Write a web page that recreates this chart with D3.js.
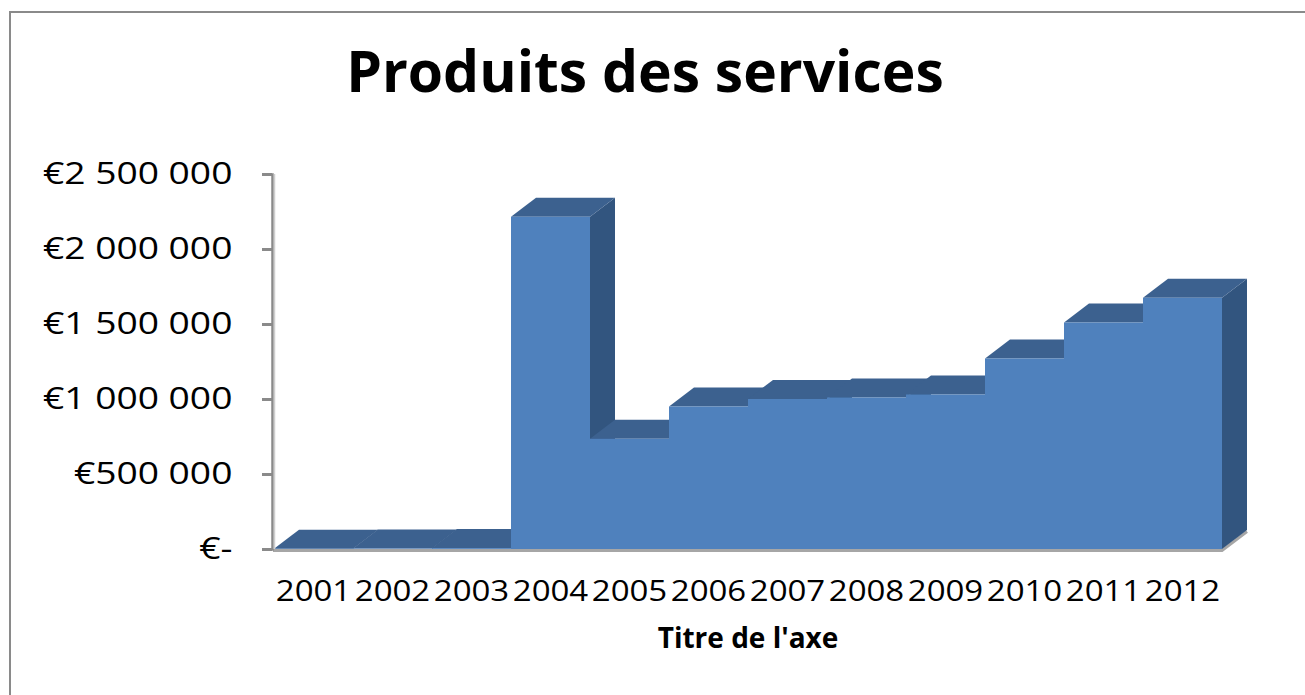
<!DOCTYPE html>
<html>
<head>
<meta charset="utf-8">
<script src="https://cdn.jsdelivr.net/npm/d3@7"></script>
<style>
  body { margin: 0; background: #fff; }
  svg { display: block; }
</style>
</head>
<body>
<div id="chart"></div>
<script>
var years = ['2001', '2002', '2003', '2004', '2005', '2006', '2007', '2008', '2009', '2010', '2011', '2012'];
var produits = [2000, 3000, 6000, 2215000, 735000, 950000, 1000000, 1010000, 1030000, 1270000, 1510000, 1675000];
var yTicks = [0, 500000, 1000000, 1500000, 2000000, 2500000];
var yTickLabels = ['€-', '€500 000', '€1 000 000', '€1 500 000', '€2 000 000', '€2 500 000'];

var width = 1305, height = 695;
var depthX = 25, depthY = -19;

var svg = d3.select('#chart').append('svg')
  .attr('width', width)
  .attr('height', height);

// cadre du graphique
svg.append('rect')
  .attr('x', 10).attr('y', 12)
  .attr('width', 1310).attr('height', 720)
  .attr('fill', 'none')
  .attr('stroke', '#8a8a8a')
  .attr('stroke-width', 2);

var x = d3.scaleBand().domain(years).range([274, 1222]).padding(0);
var y = d3.scaleLinear().domain([0, 2500000]).range([549, 174]);

// titre
svg.append('text')
  .attr('x', 645).attr('y', 92)
  .attr('text-anchor', 'middle')
  .style('font-family', '"Open Sans", sans-serif')
  .style('font-weight', 'bold')
  .style('font-size', '57px')
  .text('Produits des services');

// sol (bord avant + bord droit)
var floor = svg.append('g');
floor.append('path')
  .attr('d', 'M' + (x.range()[0] - 1) + ',' + (y(0) + 1.5) + 'H' + x.range()[1] +
    'l' + depthX + ',' + depthY)
  .attr('fill', 'none')
  .attr('stroke', '#a6a6a6')
  .attr('stroke-width', 3);

// colonnes 3D, dessinées de gauche à droite
var bars = svg.append('g');
years.forEach(function(yr, i) {
  var x0 = x(yr), x1 = x0 + x.bandwidth();
  var yt = y(produits[i]), yb = y(0);
  var g = bars.append('g');
  // face latérale
  g.append('path')
    .attr('d', 'M' + x1 + ',' + yb + 'L' + x1 + ',' + yt + 'l' + depthX + ',' + depthY +
      'L' + (x1 + depthX) + ',' + (yb + depthY) + 'Z')
    .attr('fill', '#32557f');
  // face supérieure
  g.append('path')
    .attr('d', 'M' + x0 + ',' + yt + 'l' + depthX + ',' + depthY + 'L' + (x1 + depthX) + ',' + (yt + depthY) +
      'L' + x1 + ',' + yt + 'Z')
    .attr('fill', '#3c618f');
  // face avant
  g.append('rect')
    .attr('x', x0).attr('y', yt)
    .attr('width', x.bandwidth()).attr('height', yb - yt)
    .attr('fill', '#4f81bd');
});

// axe vertical
var yAxis = svg.append('g')
  .attr('transform', 'translate(272,0)')
  .call(d3.axisLeft(y).tickValues(yTicks).tickSize(10).tickPadding(23)
    .tickFormat(function(d, i) { return yTickLabels[i]; }));
yAxis.select('.domain').attr('stroke', '#8a8a8a').attr('stroke-width', 2.5);
yAxis.selectAll('.tick line').attr('stroke', '#8a8a8a').attr('stroke-width', 3);
yAxis.selectAll('.tick text')
  .style('font-family', '"Open Sans", sans-serif')
  .style('font-size', '31px')
  .attr('transform', 'scale(1.2,1)')
  .attr('fill', '#000');
svg.append('line')
  .attr('x1', 274.5).attr('x2', 274.5)
  .attr('y1', y.range()[1]).attr('y2', y(0))
  .attr('stroke', '#cfcfcf').attr('stroke-width', 1.5);

// axe horizontal (étiquettes)
var xAxis = svg.append('g')
  .attr('transform', 'translate(0,' + y(0) + ')')
  .call(d3.axisBottom(x).tickSize(0).tickPadding(31));
xAxis.select('.domain').remove();
xAxis.selectAll('.tick text')
  .style('font-family', '"Open Sans", sans-serif')
  .style('font-size', '30px')
  .attr('transform', 'scale(1.1,1)')
  .attr('fill', '#000');

// titre de l'axe
svg.append('text')
  .attr('x', (x.range()[0] + x.range()[1]) / 2).attr('y', 648)
  .attr('text-anchor', 'middle')
  .style('font-family', '"Open Sans", sans-serif')
  .style('font-weight', 'bold')
  .style('font-size', '28px')
  .text("Titre de l'axe");
</script>
</body>
</html>
